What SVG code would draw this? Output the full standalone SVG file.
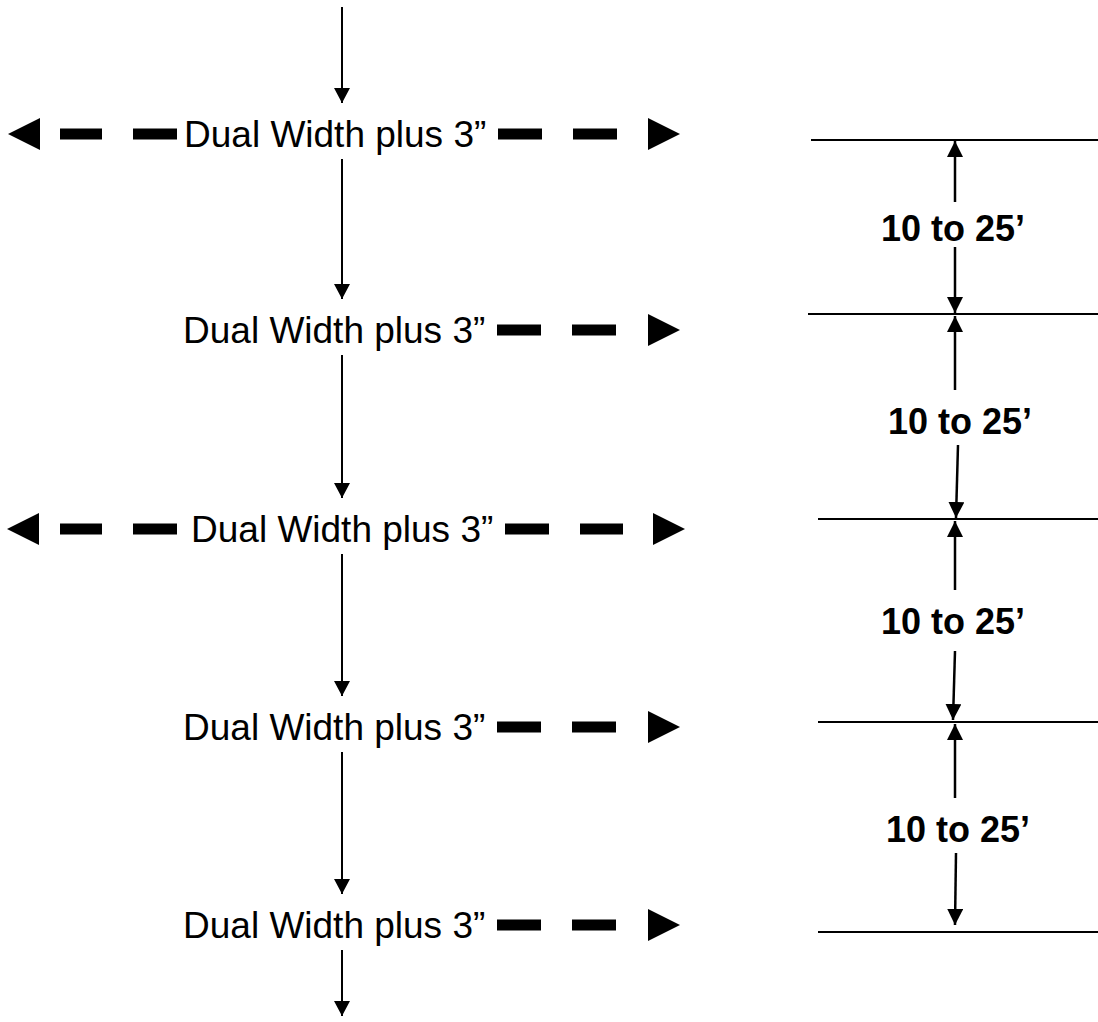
<svg xmlns="http://www.w3.org/2000/svg" width="1098" height="1022" viewBox="0 0 1098 1022">
<style>
.lbl{font-family:"Liberation Sans",Arial,sans-serif;font-size:37px;fill:#000}
.dim{font-family:"Liberation Sans",Arial,sans-serif;font-size:36px;font-weight:bold;fill:#000;text-anchor:middle}
.v{stroke:#000;stroke-width:2;fill:none;marker-end:url(#ah)}
.d{stroke:#000;stroke-width:2.5;fill:none;marker-end:url(#ah2)}
.dash{stroke:#000;stroke-width:11;stroke-dasharray:44 31;fill:none}
.tri{fill:#000}
.hl{stroke:#000;stroke-width:2;fill:none}
</style>
<defs>
<marker id="ah" viewBox="0 0 15 16" markerWidth="15" markerHeight="16" markerUnits="userSpaceOnUse" refX="15" refY="8" orient="auto"><path d="M0 0 L15 8 L0 16 Z" fill="#000"/></marker>
<marker id="ah2" viewBox="0 0 16 16" markerWidth="16" markerHeight="16" markerUnits="userSpaceOnUse" refX="16" refY="8" orient="auto"><path d="M0 0 L16 8 L0 16 Z" fill="#000"/></marker>
<clipPath id="c1"><rect x="850" y="200" width="220" height="41"/></clipPath>
<clipPath id="c2"><rect x="850" y="395" width="220" height="39"/></clipPath>
<clipPath id="c3"><rect x="850" y="595" width="220" height="39"/></clipPath>
<clipPath id="c4"><rect x="850" y="800" width="220" height="42"/></clipPath>
</defs>

<g id="connectors">
<path class="v" d="M342 7 V103"/>
<path class="v" d="M342 159 V299"/>
<path class="v" d="M342 355 V498"/>
<path class="v" d="M342 554 V696"/>
<path class="v" d="M342 752 V894"/>
<path class="v" d="M342 950 V1016"/>

<path class="dash" d="M177 134 H60"/><path class="tri" d="M40 118 L8 134 L40 150 Z"/>
<path class="dash" d="M498 134 H617"/><path class="tri" d="M648 118 L680 134 L648 150 Z"/>

<path class="dash" d="M497 330 H616"/><path class="tri" d="M648 314 L680 330 L648 346 Z"/>

<path class="dash" d="M177 529 H60"/><path class="tri" d="M39 513 L7 529 L39 545 Z"/>
<path class="dash" d="M505 529 H623"/><path class="tri" d="M653 513 L685 529 L653 545 Z"/>

<path class="dash" d="M497 727 H616"/><path class="tri" d="M648 711 L680 727 L648 743 Z"/>

<path class="dash" d="M497 925 H616"/><path class="tri" d="M648 909 L680 925 L648 941 Z"/>

<path class="hl" d="M811 140 H1098"/>
<path class="hl" d="M808 314 H1098"/>
<path class="hl" d="M818 519 H1098"/>
<path class="hl" d="M818 722 H1098"/>
<path class="hl" d="M818 932 H1098"/>

<path class="d" d="M955 202 V141"/>
<path class="d" d="M955 247 V313"/>
<path class="d" d="M955 390 V316"/>
<path class="d" d="M958 445 L956 518"/>
<path class="d" d="M955 590 V521"/>
<path class="d" d="M955 651 L953 720"/>
<path class="d" d="M955 798 V724"/>
<path class="d" d="M956 853 L955 925"/>
</g>

<g id="row1"><text class="lbl" x="184" y="147">Dual Width plus 3”</text></g>
<g id="row2"><text class="lbl" x="183" y="343">Dual Width plus 3”</text></g>
<g id="row3"><text class="lbl" x="191" y="542">Dual Width plus 3”</text></g>
<g id="row4"><text class="lbl" x="183" y="740">Dual Width plus 3”</text></g>
<g id="row5"><text class="lbl" x="183" y="938">Dual Width plus 3”</text></g>

<g id="dim1"><text class="dim" x="953" y="241" clip-path="url(#c1)">10 to 25’</text></g>
<g id="dim2"><text class="dim" x="960" y="434" clip-path="url(#c2)">10 to 25’</text></g>
<g id="dim3"><text class="dim" x="953" y="634" clip-path="url(#c3)">10 to 25’</text></g>
<g id="dim4"><text class="dim" x="958" y="842" clip-path="url(#c4)">10 to 25’</text></g>
</svg>
